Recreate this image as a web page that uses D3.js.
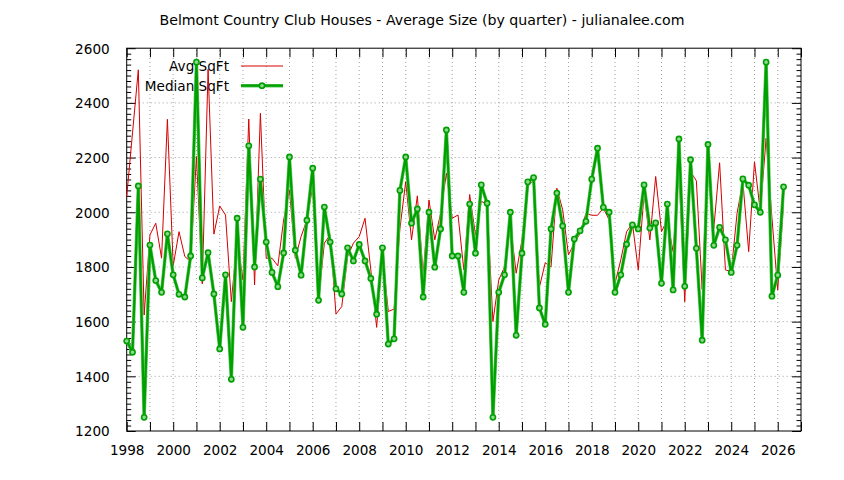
<!DOCTYPE html>
<html>
<head>
<meta charset="utf-8">
<script src="https://cdn.jsdelivr.net/npm/d3@7/dist/d3.min.js"></script>
<style>
  html, body { margin: 0; padding: 0; background: #fff; }
  svg { display: block; }
  text { font-family: "DejaVu Sans", sans-serif; fill: #000; }
</style>
</head>
<body>
<svg id="chart" width="844" height="480"></svg>
<script>
const title = "Belmont Country Club Houses - Average Size (by quarter) - julianalee.com";
const seriesNames = ["Avg SqFt", "Median SqFt"];

const quarters = [
  1998.00,1998.25,1998.50,1998.75,1999.00,1999.25,1999.50,1999.75,
  2000.00,2000.25,2000.50,2000.75,2001.00,2001.25,2001.50,2001.75,
  2002.00,2002.25,2002.50,2002.75,2003.00,2003.25,2003.50,2003.75,
  2004.00,2004.25,2004.50,2004.75,2005.00,2005.25,2005.50,2005.75,
  2006.00,2006.25,2006.50,2006.75,2007.00,2007.25,2007.50,2007.75,
  2008.00,2008.25,2008.50,2008.75,2009.00,2009.25,2009.50,2009.75,
  2010.00,2010.25,2010.50,2010.75,2011.00,2011.25,2011.50,2011.75,
  2012.00,2012.25,2012.50,2012.75,2013.00,2013.25,2013.50,2013.75,
  2014.00,2014.25,2014.50,2014.75,2015.00,2015.25,2015.50,2015.75,
  2016.00,2016.25,2016.50,2016.75,2017.00,2017.25,2017.50,2017.75,
  2018.00,2018.25,2018.50,2018.75,2019.00,2019.25,2019.50,2019.75,
  2020.00,2020.25,2020.50,2020.75,2021.00,2021.25,2021.50,2021.75,
  2022.00,2022.25,2022.50,2022.75,2023.00,2023.25,2023.50,2023.75,
  2024.00,2024.25,2024.50,2024.75,2025.00,2025.25,2025.50,2025.75,
  2026.00,2026.25
];

const avgSqFt = [
  2057,2290,2521,1624,1917,1960,1832,2340,
  1804,1929,1838,1820,2204,1738,2523,1920,
  2023,1990,1673,1900,1752,2341,1734,2362,
  1832,1832,1804,1972,2082,1832,1911,1972,
  2094,1679,1887,1917,1628,1655,1838,1887,
  1911,1978,1789,1579,1850,1637,1646,1940,
  2112,1899,2060,1771,2045,1899,1996,2143,
  1978,1990,1789,2065,1917,2040,2030,1600,
  1752,1800,1960,1777,1899,2106,2112,1726,
  1815,1800,2088,2009,1844,1887,1923,1996,
  1989,1989,2015,1972,1740,1826,1929,1960,
  1789,2069,1899,2131,1929,1972,1856,2155,
  1673,2149,2115,1718,2222,1941,2181,1789,
  1783,1996,2112,1856,2185,2002,2271,1980,
  1716,2033
];

const medianSqFt = [
  1529,1488,2096,1250,1880,1750,1707,1921,
  1771,1700,1690,1840,2549,1760,1852,1701,
  1500,1771,1389,1978,1579,2243,1800,2121,
  1891,1780,1728,1851,2202,1861,1770,1971,
  2161,1678,2019,1891,1720,1701,1870,1822,
  1882,1822,1758,1627,1870,1518,1537,2080,
  2202,1960,2012,1690,2000,1799,1939,2301,
  1840,1840,1707,2030,1850,2100,2033,1250,
  1707,1771,2000,1550,1850,2111,2127,1650,
  1590,1939,2070,1950,1707,1902,1932,1967,
  2121,2234,2018,2000,1707,1771,1883,1954,
  1939,2100,1942,1961,1740,2030,1716,2268,
  1729,2192,1868,1532,2248,1879,1945,1899,
  1780,1879,2122,2099,2027,2000,2549,1693,
  1770,2093
];

const xTickLabels = ["1998","2000","2002","2004","2006","2008","2010","2012","2014","2016","2018","2020","2022","2024","2026"];
const yTickLabels = ["1200","1400","1600","1800","2000","2200","2400","2600"];

const svg = d3.select("#chart");
const L = 126.7, R = 801, T = 48.2, B = 431;
const x = d3.scaleLinear().domain([1998, 2027]).range([L, R]);
const y = d3.scaleLinear().domain([1200, 2600]).range([B, T]);

const yearTicks = d3.range(1998, 2028);
const yMajor = yTickLabels.map(Number);
const yMinor = d3.range(1200, 2601, 20).filter(v => v % 200 !== 0);

// grid
const grid = svg.append("g").attr("stroke", "#a0a0a0").attr("stroke-width", 1)
  .attr("stroke-dasharray", "1,3");
yearTicks.filter(v => v > 1998 && v < 2027).forEach(v => {
  grid.append("line").attr("x1", x(v)).attr("x2", x(v)).attr("y1", B).attr("y2", T);
});
yMajor.filter(v => v > 1200 && v < 2600).forEach(v => {
  grid.append("line").attr("x1", L).attr("x2", R).attr("y1", y(v)).attr("y2", y(v));
});

// axes with inward ticks (using d3 axes)
const fs = 13.6;
const bottomAxis = d3.axisBottom(x).tickValues(yearTicks)
  .tickFormat(d => xTickLabels.includes(String(d)) ? String(d) : "")
  .tickSize(-9).tickPadding(14);
const gB = svg.append("g").attr("transform", `translate(0,${B})`).call(bottomAxis);
const topAxis = d3.axisTop(x).tickValues(yearTicks).tickFormat("").tickSize(-9);
const gT = svg.append("g").attr("transform", `translate(0,${T})`).call(topAxis);
const leftAxis = d3.axisLeft(y).tickValues(yMajor).tickFormat(d => String(d)).tickSize(-9).tickPadding(17);
const gL = svg.append("g").attr("transform", `translate(${L},0)`).call(leftAxis);
const rightAxis = d3.axisRight(y).tickValues(yMajor).tickFormat("").tickSize(-9);
const gR = svg.append("g").attr("transform", `translate(${R},0)`).call(rightAxis);
const leftMinor = d3.axisLeft(y).tickValues(yMinor).tickFormat("").tickSize(-4.5);
const gLm = svg.append("g").attr("transform", `translate(${L},0)`).call(leftMinor);
const rightMinor = d3.axisRight(y).tickValues(yMinor).tickFormat("").tickSize(-4.5);
const gRm = svg.append("g").attr("transform", `translate(${R},0)`).call(rightMinor);

[gB, gT, gL, gR, gLm, gRm].forEach(g => {
  g.select(".domain").remove();
  g.selectAll("line").attr("stroke", "#000").attr("stroke-width", 1);
  g.selectAll("text").attr("font-family", "DejaVu Sans, sans-serif")
    .attr("font-size", fs).attr("fill", "#000");
});
gL.selectAll("text").attr("dy", "0.36em");

// frame
svg.append("rect").attr("x", L).attr("y", T).attr("width", R - L).attr("height", B - T)
  .attr("fill", "none").attr("stroke", "#000").attr("stroke-width", 1);

// title
svg.append("text").attr("x", 422).attr("y", 25).attr("text-anchor", "middle")
  .attr("font-size", 14.15).text(title);

// legend
const redCol = "#d40000", greenCol = "#00a000";
const lg = svg.append("g");
lg.append("text").attr("x", 229).attr("y", 71).attr("text-anchor", "end").attr("font-size", fs).text(seriesNames[0]);
lg.append("text").attr("x", 229).attr("y", 90.5).attr("text-anchor", "end").attr("font-size", fs).text(seriesNames[1]);
lg.append("line").attr("x1", 241).attr("x2", 283).attr("y1", 66).attr("y2", 66)
  .attr("stroke", redCol).attr("stroke-width", 1);
lg.append("line").attr("x1", 241).attr("x2", 283).attr("y1", 85.7).attr("y2", 85.7)
  .attr("stroke", "#5fc85f").attr("stroke-width", 3.4);
lg.append("line").attr("x1", 241).attr("x2", 283).attr("y1", 85.7).attr("y2", 85.7)
  .attr("stroke", greenCol).attr("stroke-width", 2.2);
lg.append("circle").attr("cx", 262).attr("cy", 85.7).attr("r", 2.6)
  .attr("fill", "#8fd88f").attr("stroke", greenCol).attr("stroke-width", 1.6);

// series
const avgData = quarters.map((q, i) => [q, avgSqFt[i]]);
const medData = quarters.map((q, i) => [q, medianSqFt[i]]);
const line = d3.line().x(d => x(d[0])).y(d => y(d[1]));

svg.append("path").datum(avgData).attr("d", line).attr("fill", "none")
  .attr("stroke", redCol).attr("stroke-width", 1).attr("stroke-linejoin", "round");

svg.append("path").datum(medData).attr("d", line).attr("fill", "none")
  .attr("stroke", "#5fc85f").attr("stroke-width", 3.4).attr("stroke-linejoin", "round");
svg.append("path").datum(medData).attr("d", line).attr("fill", "none")
  .attr("stroke", greenCol).attr("stroke-width", 2.2).attr("stroke-linejoin", "round");

svg.append("g").selectAll("circle").data(medData).join("circle")
  .attr("cx", d => x(d[0])).attr("cy", d => y(d[1])).attr("r", 2.6)
  .attr("fill", "#8fd88f").attr("stroke", greenCol).attr("stroke-width", 1.6);
</script>
</body>
</html>
